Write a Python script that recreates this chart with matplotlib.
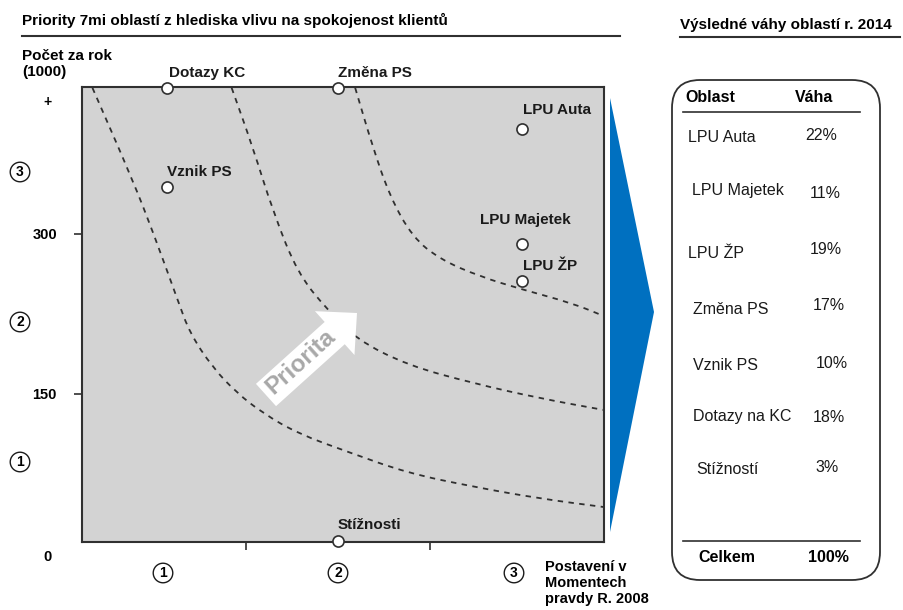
import matplotlib
matplotlib.use("Agg")
import matplotlib.pyplot as plt
from matplotlib.patches import FancyArrow, FancyBboxPatch, Polygon, PathPatch
from matplotlib.path import Path

plt.rcParams['font.family'] = ['Liberation Sans', 'DejaVu Sans']

# Areas on the priority map (x = position in Moments of truth 2008, y = count per year in 1000)
areas = ['Dotazy KC', 'Změna PS', 'Vznik PS', 'LPU Auta', 'LPU Majetek', 'LPU ŽP', 'Stížnosti']
area_x = [0.49, 1.47, 0.49, 2.53, 2.53, 2.53, 1.47]
area_y = [437, 437, 344, 398, 291, 256, 12]

# iso-priority curves
curve1_x = [0.06, 0.29, 0.41, 0.55, 0.62, 0.75, 0.89, 1.04, 1.24, 1.54, 1.87, 2.25, 2.63, 3.0]
curve1_y = [437, 351, 301, 238, 207, 175, 151, 132, 113, 95, 76, 63, 52, 44]
curve2_x = [0.86, 0.98, 1.10, 1.24, 1.41, 1.58, 1.87, 2.25, 2.63, 3.0]
curve2_y = [437, 382, 320, 263, 229, 201, 177, 160, 146, 135]
curve3_x = [1.57, 1.67, 1.77, 1.90, 2.06, 2.29, 2.53, 2.82, 3.0]
curve3_y = [437, 382, 335, 297, 276, 260, 248, 235, 223]

y_ticks = [150, 300]

# resulting weights 2014
table_areas = ['LPU Auta', 'LPU Majetek', 'LPU ŽP', 'Změna PS', 'Vznik PS', 'Dotazy na KC', 'Stížností']
table_weights = ['22%', '11%', '19%', '17%', '10%', '18%', '3%']
total_weight = '100%'

# label offsets in pixels for the map points
label_dx = [2, 0, 0, 1, -42, 1, 0]
label_dy = [15, 15, 15, 19, 24, 15, 16]

# table row layout (pixel positions, the original slide is a bit irregular)
row_name_x = [688, 692, 688, 693, 693, 693, 696]
row_name_y = [138, 191, 253, 310, 366, 416, 469]
row_w_x = [805, 810, 810, 813, 816, 813, 815]
row_w_y = [136, 193, 250, 306, 363, 418, 467]


def smooth_path(xs, ys):
    # quadratic bezier through midpoints, so the dashed curve has no kinks
    pts = list(zip(xs, ys))
    verts = [pts[0]]
    codes = [Path.MOVETO]
    mid = ((pts[0][0] + pts[1][0]) / 2, (pts[0][1] + pts[1][1]) / 2)
    verts.append(mid)
    codes.append(Path.LINETO)
    for i in range(1, len(pts) - 1):
        nxt = ((pts[i][0] + pts[i + 1][0]) / 2, (pts[i][1] + pts[i + 1][1]) / 2)
        verts += [pts[i], nxt]
        codes += [Path.CURVE3, Path.CURVE3]
    verts.append(pts[-1])
    codes.append(Path.LINETO)
    return Path(verts, codes)


fig = plt.figure(figsize=(9.04, 6.1), dpi=100)

# main map
ax = fig.add_axes([82 / 904, (610 - 542) / 610, 522 / 904, 455 / 610], zorder=1)
ax.set_facecolor('#d3d3d3')
ax.set_xlim(0, 3)
ax.set_ylim(11.25, 437.8)
for s in ax.spines.values():
    s.set_color('#303030')
    s.set_linewidth(1.5)

for cx, cy in [(curve1_x, curve1_y), (curve2_x, curve2_y), (curve3_x, curve3_y)]:
    ax.add_patch(PathPatch(smooth_path(cx, cy), fill=False, ec='#303030',
                           lw=1.3, ls=(0, (3, 3)), clip_on=False))

ax.plot(area_x, area_y, 'o', ms=8, mfc='white', mec='#303030', mew=1.2,
        clip_on=False, zorder=5)
for name, x, y, dx, dy in zip(areas, area_x, area_y, label_dx, label_dy):
    ax.annotate(name, (x, y), xytext=(dx, dy), textcoords='offset pixels',
                ha='left', va='center', fontsize=11, fontweight='bold',
                color='#1a1a1a', annotation_clip=False)

ax.set_yticks(y_ticks)
ax.set_yticklabels([str(v) for v in y_ticks], fontweight='bold', fontsize=10.5)
ax.set_xticks([0.94, 2.0])
ax.set_xticklabels([])
ax.tick_params(direction='out', length=6, width=1.2, color='#303030', pad=12)

# overlay in pixel coordinates
ov = fig.add_axes([0, 0, 1, 1], zorder=3)
ov.set_xlim(0, 904)
ov.set_ylim(610, 0)
ov.axis('off')
ov.patch.set_alpha(0)

ov.text(22, 20, 'Priority 7mi oblastí z hlediska vlivu na spokojenost klientů',
        fontsize=11, fontweight='bold', va='center', ha='left')
ov.plot([22, 620], [36, 36], color='#303030', lw=1.5)
ov.text(680, 25, 'Výsledné váhy oblastí r. 2014', fontsize=11,
        fontweight='bold', va='center', ha='left')
ov.plot([680, 900], [37, 37], color='#303030', lw=1.5)

ov.text(22, 64, 'Počet za rok\n(1000)', fontsize=11, fontweight='bold',
        va='center', ha='left', linespacing=1.2)
ov.text(48, 102, '+', fontsize=10, fontweight='bold', ha='center', va='center')
ov.text(48, 557, '0', fontsize=10.5, fontweight='bold', ha='center', va='center')

circ = dict(boxstyle='circle,pad=0.2', fc='white', ec='#1a1a1a', lw=1.0)
for lab, y in zip(['3', '2', '1'], [172, 322, 462]):
    ov.text(20, y, lab, fontsize=10, fontweight='bold', ha='center',
            va='center', bbox=circ)
for lab, x in zip(['1', '2', '3'], [163, 338, 514]):
    ov.text(x, 573, lab, fontsize=10, fontweight='bold', ha='center',
            va='center', bbox=circ)
ov.text(545, 583, 'Postavení v\nMomentech\npravdy R. 2008', fontsize=10.5,
        fontweight='bold', ha='left', va='center', linespacing=1.2)

# priority arrow
ov.add_patch(FancyArrow(266, 395, 91, -82, width=30, head_width=59,
                        head_length=30, length_includes_head=True,
                        fc='white', ec='none'))
ov.text(301, 362, 'Priorita', rotation=42, rotation_mode='anchor',
        ha='center', va='center', fontsize=17.5, fontweight='bold',
        color='#a8a8a8')

# blue triangle
ov.add_patch(Polygon([(610, 98), (654, 312), (610, 532)], closed=True,
                     fc='#0070c0', ec='none'))

# weights table
ov.add_patch(FancyBboxPatch((672, 80), 208, 500,
                            boxstyle='round,pad=0,rounding_size=28',
                            fc='white', ec='#303030', lw=1.3))
ov.text(685, 97, 'Oblast', fontsize=11.5, fontweight='bold', va='center')
ov.text(795, 97, 'Váha', fontsize=11.5, fontweight='bold', va='center')
ov.plot([683, 860], [112, 112], color='#303030', lw=1.2)
for name, w, nx, ny, wx, wy in zip(table_areas, table_weights, row_name_x,
                                   row_name_y, row_w_x, row_w_y):
    ov.text(nx, ny, name, fontsize=11.5, va='center', ha='left', color='#1a1a1a')
    ov.text(wx, wy, w, fontsize=11.5, va='center', ha='left', color='#1a1a1a')
ov.plot([683, 860], [541, 541], color='#303030', lw=1.2)
ov.text(698, 557, 'Celkem', fontsize=11.5, fontweight='bold', va='center')
ov.text(808, 558, total_weight, fontsize=11.5, fontweight='bold', va='center')

fig.savefig('out.png', dpi=100)
